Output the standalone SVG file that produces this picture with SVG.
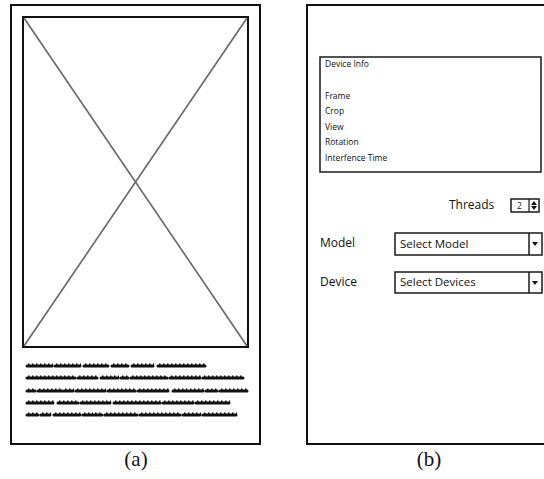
<svg xmlns="http://www.w3.org/2000/svg" width="544" height="479" viewBox="0 0 544 479">
  <defs>
    <style>
      .frame { fill: #fff; stroke: #111; stroke-width: 2; }
      .box { fill: #fff; stroke: #1a1a1a; stroke-width: 1.5; }
      .cross { stroke: #666; stroke-width: 1.6; fill: none; }
      .ui { font-family: "Open Sans", "Noto Sans", "Liberation Sans", sans-serif; fill: #111; }
      .small { font-size: 8.5px; }
      .label { font-size: 12px; }
      .cap { font-family: "Liberation Serif", serif; font-size: 21px; fill: #111; text-anchor: middle; }
      .scrib { stroke: #111; stroke-width: 3; stroke-linecap: round; fill: none; }
      .bump { stroke: #111; stroke-width: 1.6; stroke-dasharray: 1.5 2.5; fill: none; }
    </style>
  </defs>

  <rect width="544" height="479" fill="#fff"/>

  <!-- (a) image screen mockup -->
  <g id="screen-a">
    <rect class="frame" x="11" y="5" width="249" height="439"/>
    <g id="image-placeholder">
      <rect class="frame" x="23" y="17" width="225" height="330"/>
      <line class="cross" x1="24" y1="18" x2="247" y2="346"/>
      <line class="cross" x1="247" y1="18" x2="24" y2="346"/>
    </g>
    <!-- greeked paragraph: word strokes plus a bumpy ascender texture -->
    <g id="text-block">
      <path id="w1" class="scrib" d="M27 366H52M55 366H80M84 366H108M112 366H128M132 366H153M158 366H205"/>
      <path id="w2" class="scrib" d="M27 378H75M78 378H97M101 378H118M121 378H128M131 378H167M170 378H200M203 378H243"/>
      <path id="w3" class="scrib" d="M27 391H35M38 391H62M64 391H73M76 391H105M108 391H135M138 391H168M173 391H187M189 391H203M206 391H217M220 391H247"/>
      <path id="w4" class="scrib" d="M27 403H53M58 403H78M81 403H110M114 403H160M163 403H193M196 403H229"/>
      <path id="w5" class="scrib" d="M27 415H38M41 415H50M54 415H80M83 415H92M94 415H102M105 415H137M140 415H180M183 415H200M203 415H236"/>
      <g transform="translate(1 -1.6)">
        <path class="bump" d="M27 366H52M55 366H80M84 366H108M112 366H128M132 366H153M158 366H205"/>
        <path class="bump" d="M27 378H75M78 378H97M101 378H118M121 378H128M131 378H167M170 378H200M203 378H243"/>
        <path class="bump" d="M27 391H35M38 391H62M64 391H73M76 391H105M108 391H135M138 391H168M173 391H187M189 391H203M206 391H217M220 391H247"/>
        <path class="bump" d="M27 403H53M58 403H78M81 403H110M114 403H160M163 403H193M196 403H229"/>
        <path class="bump" d="M27 415H38M41 415H50M54 415H80M83 415H92M94 415H102M105 415H137M140 415H180M183 415H200M203 415H236"/>
      </g>
    </g>
    <text class="cap" x="136" y="466">(a)</text>
  </g>

  <!-- (b) settings screen mockup -->
  <g id="screen-b">
    <rect class="frame" x="307" y="5" width="245" height="439"/>
    <g id="info-panel">
      <rect class="box" x="320" y="57" width="221" height="115"/>
      <g class="ui small">
        <text x="325" y="67">Device Info</text>
        <text x="325" y="99">Frame</text>
        <text x="325" y="114">Crop</text>
        <text x="325" y="130">View</text>
        <text x="325" y="145">Rotation</text>
        <text x="325" y="161">Interfence Time</text>
      </g>
    </g>
    <g id="threads">
      <text class="ui label" x="449" y="209">Threads</text>
      <rect class="box" x="511" y="199" width="28" height="13" stroke-width="1.2"/>
      <line x1="529" y1="199" x2="529" y2="212" stroke="#1a1a1a" stroke-width="1.2"/>
      <text class="ui" x="517" y="209" font-size="8.5">2</text>
      <path d="M531 205L534 201L537 205ZM531 206L534 210L537 206Z" fill="#111"/>
    </g>
    <g id="model">
      <text class="ui label" x="320" y="247">Model</text>
      <rect class="box" x="395" y="233" width="147" height="22"/>
      <line x1="529" y1="233" x2="529" y2="255" stroke="#1a1a1a" stroke-width="1.5"/>
      <text class="ui" x="400" y="248" font-size="11.5">Select Model</text>
      <path d="M532 242L538 242L535 246Z" fill="#111"/>
    </g>
    <g id="device">
      <text class="ui label" x="320" y="286">Device</text>
      <rect class="box" x="395" y="272" width="147" height="21"/>
      <line x1="529" y1="272" x2="529" y2="293" stroke="#1a1a1a" stroke-width="1.5"/>
      <text class="ui" x="400" y="286" font-size="11.5">Select Devices</text>
      <path d="M532 281L538 281L535 285Z" fill="#111"/>
    </g>
    <text class="cap" x="429" y="466">(b)</text>
  </g>
</svg>
